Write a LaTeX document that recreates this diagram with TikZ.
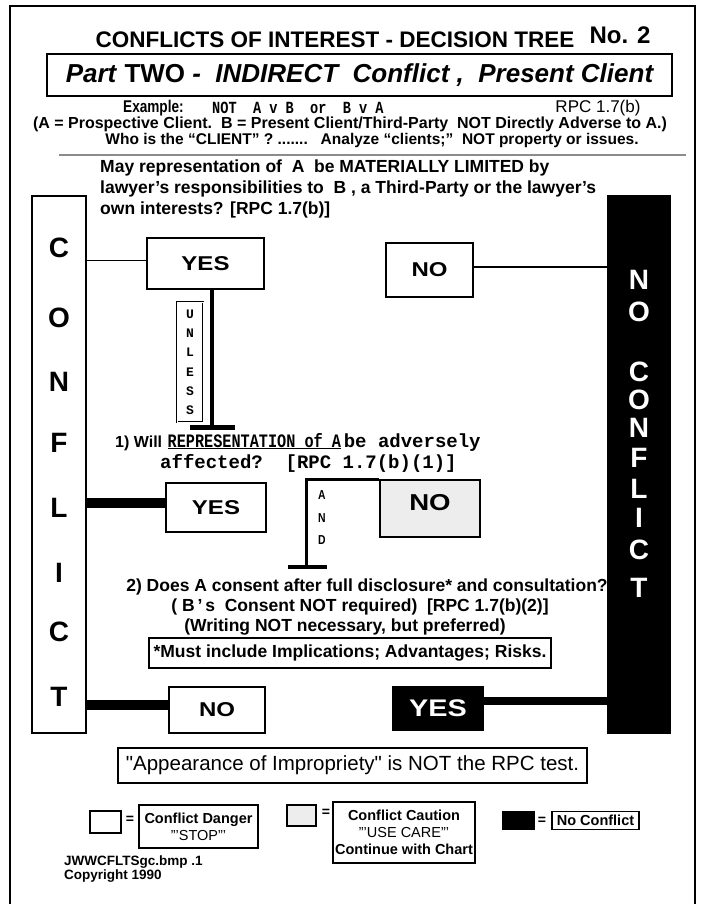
\documentclass[tikz,border=0pt]{standalone}
\usepackage{fontspec}
\setmainfont{Liberation Sans}
\setmonofont{Liberation Mono}
\newfontfamily\narrowsf[FakeStretch=0.8]{Liberation Sans}
\newfontfamily\widesf[FakeStretch=1.2]{Liberation Sans}
\newfontfamily\narrowtt[FakeStretch=0.8]{Liberation Mono}
\usetikzlibrary{positioning,calc}
\definecolor{caution}{HTML}{EDEDED}
\definecolor{rulegray}{HTML}{8C8C8C}
\tikzset{box/.style={draw, line width=2pt, inner sep=0pt},
  answer/.style={box, font=\widesf\bfseries\fontsize{20}{20}\selectfont},
  bigletter/.style={inner sep=0pt, font=\bfseries\fontsize{28}{28}\selectfont},
  note/.style={inner sep=0pt, font=\bfseries\fontsize{17.5}{21}\selectfont},
  legendbox/.style={box, line width=1.6pt, align=center,
    font=\bfseries\fontsize{14.5}{17}\selectfont},
  swatch/.style={draw, line width=1.2pt},
  thinlink/.style={line width=1.8pt},
  heavylink/.style={line width=10pt},
  stem/.style={line width=3.5pt},
  teebar/.style={line width=5pt}}

\begin{document}
\begin{tikzpicture}[x=1pt, y=-1pt]
\useasboundingbox (0,0) rectangle (704,904);
% frame, its bottom edge runs off the page
\draw[line width=2pt] (10,904) -- (10,6) -- (695,6) -- (695,904);

% heading
\node[font=\bfseries\fontsize{22.5}{22.5}\selectfont] (title) at (335,40)
  {CONFLICTS OF INTEREST - DECISION TREE};
\node[font=\bfseries\fontsize{24}{24}\selectfont, anchor=west] (num)
  at (586,35) {No. 2};
\node[box, minimum width=625pt, minimum height=42pt,
  font=\bfseries\itshape\fontsize{26}{26}\selectfont] (part) at (359.5,75)
  {Part \textup{TWO} - \ INDIRECT \ Conflict , \ Present Client};
\node[inner sep=0pt, anchor=west,
  font=\narrowsf\bfseries\fontsize{17}{17}\selectfont] (example) at (123,108) {Example:};
\node[anchor=west, inner sep=0pt,
  font=\narrowtt\bfseries\fontsize{17}{17}\selectfont] (notab) at (212,108)
  {NOT \ A v B \ or \ B v A};
\node[box, double, double distance=1.2pt, line width=0.8pt,
  minimum width=108pt, minimum height=20pt,
  font=\fontsize{17}{17}\selectfont] (rpc) at (598,108) {RPC 1.7(b)};
\node[note, font=\bfseries\fontsize{16}{16}\selectfont] (parties)
  at (350,124) {(A = Prospective Client.\ \ B = Present Client/Third-Party\ \
  NOT Directly Adverse to A.)};
\node[note, font=\bfseries\fontsize{15.5}{15.5}\selectfont] (who)
  at (372,140) {Who is the ``CLIENT'' ? .......\ \ \ Analyze ``clients;''\ \
  NOT property or issues.};
\draw[line width=2pt, rulegray] (59,155) -- (686,155);
\node[note, anchor=west, align=left] (question) at (100,189)
  {May representation of\ \ A\ \ be MATERIALLY LIMITED by\\
  lawyer's responsibilities to\ \ B , a Third-Party or the lawyer's\\
  own interests? [RPC 1.7(b)]};

% side bars
\node[box, minimum width=54pt, minimum height=537pt] (conflict) at (59,464.5) {};
\node[box, fill=black, minimum width=62pt, minimum height=537pt] (noconf)
  at (639,464.5) {};
\foreach \ch/\yy in {C/248, O/318, N/382, F/443, L/508, I/573, C/632, T/697}
  \node[bigletter] (conflict-\yy) at (59,\yy) {\ch};
\foreach \ch/\yy in {N/280, O/312, C/372, O/400, N/428, F/458, L/489, I/518,
  C/550, T/588}
  \node[bigletter, text=white] (noconf-\yy) at (639,\yy) {\ch};

% first question
\node[answer, minimum width=117pt, minimum height=51pt] (yes1) at (205.5,263.5) {YES};
\node[answer, minimum width=87pt, minimum height=54pt] (no1) at (429.5,270) {NO};
\draw[thinlink] ([yshift=3pt]yes1.west) -- ([yshift=3pt]yes1.west -| conflict.east);
\draw[thinlink] ([yshift=3pt]no1.east) -- ([yshift=3pt]no1.east -| noconf.west);
\node[box, double, double distance=1pt, line width=0.8pt, minimum width=26pt,
  minimum height=120pt] (unless) at (190,362) {};
\foreach \ch [count=\k] in {U,N,L,E,S,S}
  \node[inner sep=0pt, font=\ttfamily\bfseries\fontsize{13}{13}\selectfont]
    (unless-\k) at (190,295+19.2*\k) {\ch};
\coordinate (tee1) at (212,427);
\draw[stem] (yes1.south -| tee1) -- (tee1);
\draw[teebar] ([xshift=-22pt]tee1) -- ([xshift=23pt]tee1);

% second question
\node[anchor=west, inner sep=0pt] (q1) at (115,442)
  {{\bfseries\fontsize{16}{16}\selectfont 1) Will}\ \
  \underline{\narrowtt\bfseries\fontsize{19}{19}\selectfont REPRESENTATION of A}\
  {\ttfamily\bfseries\fontsize{19}{19}\selectfont be adversely}};
\node[anchor=west, inner sep=0pt, font=\ttfamily\bfseries\fontsize{19}{19}\selectfont]
  (q1b) at (160,463) {affected?\ \ [RPC 1.7(b)(1)]};
\node[answer, minimum width=100pt, minimum height=49pt] (yes2) at (216,507.5) {YES};
\node[answer, fill=caution, minimum width=100pt, minimum height=57pt,
  font=\widesf\bfseries\fontsize{23}{23}\selectfont, text depth=13pt] (no2)
  at (430,508.5) {NO};
\draw[heavylink] ([yshift=5pt]yes2.west) -- ([yshift=5pt]yes2.west -| conflict.east);
\coordinate (tee2) at (306,567);
\draw[stem, line width=3pt] (no2.north west) -- (no2.north west -| tee2) -- (tee2);
\draw[teebar, line width=4pt] ([xshift=-18pt]tee2) -- ([xshift=21pt]tee2);
\foreach \ch/\yy in {A/495, N/518, D/540}
  \node[inner sep=0pt, font=\narrowsf\bfseries\fontsize{13}{13}\selectfont]
    (and-\ch) at (322,\yy) {\ch};

% third question
\node[note] (q2a) at (367,587)
  {2) Does A consent after full disclosure* and consultation?};
\node[note] (q2b) at (360,607)
  {( B\,'\,s\ \ Consent NOT required)\ \ [RPC 1.7(b)(2)]};
\node[note] (q2c) at (345,627)
  {(Writing NOT necessary, but preferred)};
\node[box, line width=1.6pt, minimum width=402pt, minimum height=30pt,
  font=\bfseries\fontsize{17.5}{17.5}\selectfont] (must) at (350,653)
  {*Must include Implications; Advantages; Risks.};
\node[answer, minimum width=96pt, minimum height=46pt] (no3) at (217,710) {NO};
\node[answer, fill=black, text=white, minimum width=90pt, minimum height=43pt,
  font=\widesf\bfseries\fontsize{24}{24}\selectfont] (yes3) at (438,708.5) {YES};
\draw[heavylink] ([yshift=5pt]no3.west) -- ([yshift=5pt]no3.west -| conflict.east);
\draw[heavylink, line width=8pt] ([yshift=8pt]yes3.east)
  -- ([yshift=8pt]yes3.east -| noconf.west);

% footer
\node[box, minimum width=469pt, minimum height=35pt,
  font=\fontsize{20.5}{20.5}\selectfont] (appear) at (352.5,765.5)
  {\textquotedbl Appearance of Impropriety\textquotedbl{} is NOT the RPC test.};
\node[swatch, minimum width=31pt, minimum height=22pt] (dangersw) at (105.5,822) {};
\node[inner sep=0pt, font=\bfseries\fontsize{14}{14}\selectfont] (eq-danger)
  at (130,820) {=};
\node[legendbox, minimum width=119pt, minimum height=43pt] (danger) at (198.5,826.5)
  {Conflict Danger\\\mdseries'''STOP'''};
\node[swatch, fill=caution, minimum width=29pt, minimum height=21pt] (cautionsw)
  at (301.5,815.5) {};
\node[inner sep=0pt, font=\bfseries\fontsize{14}{14}\selectfont] (eq-caution)
  at (326,813) {=};
\node[legendbox, minimum width=142pt, minimum height=61pt] (caution) at (404,832.5)
  {Conflict Caution\\\mdseries'''USE CARE'''\\Continue with Chart};
\node[swatch, fill=black, minimum width=31pt, minimum height=18pt] (noconfsw)
  at (518.5,820.5) {};
\node[inner sep=0pt, font=\bfseries\fontsize{14}{14}\selectfont] (eq-noconf)
  at (542,820.5) {=};
\node[legendbox, minimum width=87pt, minimum height=18pt,
  font=\bfseries\fontsize{14.5}{14.5}\selectfont] (noconfkey)
  at (595.5,820.5) {No Conflict};
\node[anchor=west, inner sep=0pt, align=left,
  font=\bfseries\fontsize{13.5}{12.5}\selectfont] (stamp) at (64,869)
  {JWWCFLTSgc.bmp .1\\Copyright 1990};
\end{tikzpicture}
\end{document}
